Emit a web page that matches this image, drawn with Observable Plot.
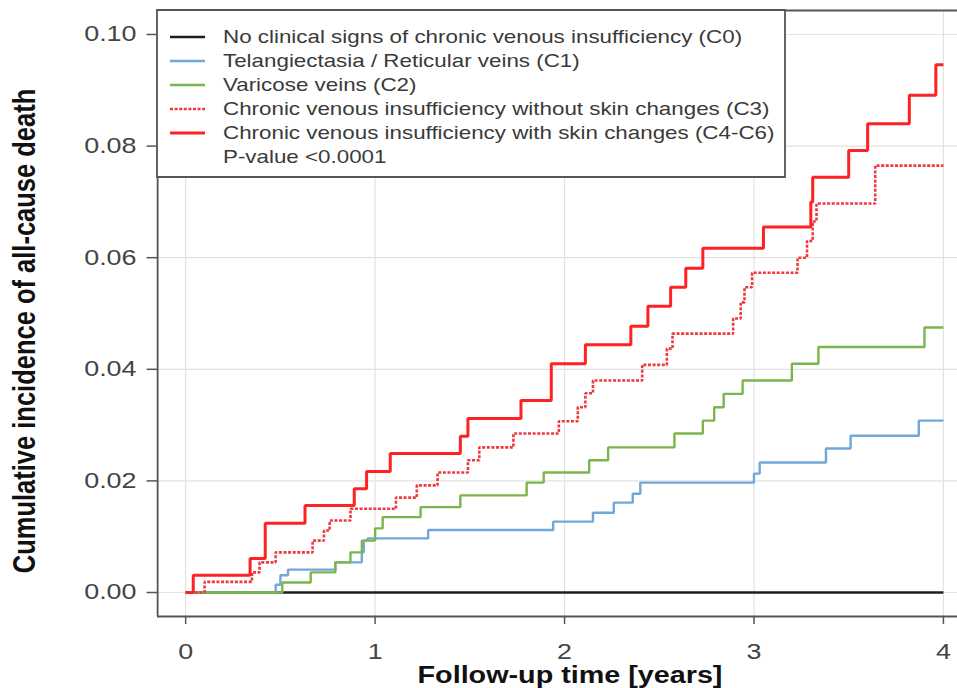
<!DOCTYPE html>
<html><head><meta charset="utf-8">
<script src="https://cdn.jsdelivr.net/npm/d3@7"></script>
<script src="https://cdn.jsdelivr.net/npm/@observablehq/plot@0.6"></script>
<style>
html,body{margin:0;padding:0;background:#fff;overflow:hidden}
#chart svg path, #chart svg line, #chart svg rect{vector-effect:non-scaling-stroke}
</style></head>
<body><div id="chart"></div>
<script>
// ---- data ----
const seriesNames = [
  "No clinical signs of chronic venous insufficiency (C0)",
  "Telangiectasia / Reticular veins (C1)",
  "Varicose veins (C2)",
  "Chronic venous insufficiency without skin changes (C3)",
  "Chronic venous insufficiency with skin changes (C4-C6)"
];
const pValueText = "P-value <0.0001";
const xTitle = "Follow-up time [years]";
const yTitle = "Cumulative incidence of all-cause death";

const c0Time  = [0, 4.0];
const c0Value = [0, 0];

const c1Time  = [0, 0.475, 0.50, 0.54, 0.79, 0.93, 0.94, 0.96, 1.28, 1.94, 2.15, 2.26, 2.36, 2.40, 3.00, 3.03, 3.38, 3.51, 3.87, 4.0];
const c1Value = [0, 0.0014, 0.0031, 0.0041, 0.0054, 0.0072, 0.0093, 0.0097, 0.0112, 0.0127, 0.0143, 0.0161, 0.0177, 0.0197, 0.0213, 0.0233, 0.0258, 0.0281, 0.0308, 0.0308];

const c2Time  = [0, 0.51, 0.66, 0.79, 0.87, 0.93, 1.00, 1.04, 1.24, 1.45, 1.80, 1.89, 2.13, 2.23, 2.58, 2.73, 2.79, 2.84, 2.94, 3.20, 3.34, 3.90, 4.0];
const c2Value = [0, 0.0018, 0.0036, 0.0054, 0.0072, 0.0093, 0.0115, 0.0135, 0.0153, 0.0174, 0.0197, 0.0215, 0.0237, 0.0260, 0.0285, 0.0308, 0.0332, 0.0356, 0.0380, 0.0410, 0.0440, 0.0475, 0.0475];

const c3Time  = [0, 0.10, 0.35, 0.39, 0.475, 0.67, 0.73, 0.76, 0.87, 1.11, 1.22, 1.33, 1.49, 1.55, 1.73, 1.97, 2.07, 2.11, 2.15, 2.41, 2.54, 2.57, 2.89, 2.93, 2.95, 2.99, 3.23, 3.28, 3.31, 3.33, 3.64, 4.0];
const c3Value = [0, 0.0019, 0.0036, 0.0054, 0.0072, 0.0093, 0.0111, 0.0129, 0.0150, 0.0170, 0.0192, 0.0215, 0.0237, 0.0260, 0.0285, 0.0307, 0.0332, 0.0357, 0.0380, 0.0408, 0.0437, 0.0464, 0.0491, 0.0520, 0.0547, 0.0573, 0.0600, 0.0630, 0.0665, 0.0697, 0.0765, 0.0765];

const c4Time  = [0, 0.04, 0.34, 0.42, 0.63, 0.89, 0.955, 1.08, 1.45, 1.49, 1.77, 1.93, 2.11, 2.35, 2.44, 2.56, 2.64, 2.73, 3.05, 3.30, 3.31, 3.50, 3.60, 3.82, 3.96, 4.0];
const c4Value = [0, 0.0031, 0.0061, 0.0124, 0.0156, 0.0186, 0.0217, 0.0249, 0.0280, 0.0312, 0.0344, 0.0410, 0.0444, 0.0477, 0.0513, 0.0547, 0.0581, 0.0617, 0.0655, 0.0700, 0.0744, 0.0792, 0.0840, 0.0891, 0.0946, 0.0946];

const xTicks = [0, 1, 2, 3, 4];
const yTicks = [0, 0.02, 0.04, 0.06, 0.08, 0.10];
const xDomain = [-0.148, 4.075];
const yDomain = [-0.0043, 0.1043];

// ---- styles ----
const seriesTimes  = [c0Time, c1Time, c2Time, c3Time, c4Time];
const seriesValues = [c0Value, c1Value, c2Value, c3Value, c4Value];
const seriesColors = ["#1e1e1e", "#72a7d9", "#7ab64c", "#ee3a3f", "#ff2222"];
const seriesWidths = [2.4, 2.4, 2.4, 2.6, 3.0];
const seriesDash   = [null, null, null, "3,1.6", null];

const S = 1.25;              // horizontal stretch of the reference raster
const W = 957 / S, H = 688;
const FONT = "'Liberation Sans', Arial, Helvetica, sans-serif";

const lineMarks = seriesNames.map((name, i) => {
  const rows = seriesTimes[i].map((t, j) => ({t, v: seriesValues[i][j], series: name}));
  return Plot.line(rows, {
    x: "t", y: "v", curve: "step-after",
    stroke: seriesColors[i], strokeWidth: seriesWidths[i],
    strokeDasharray: seriesDash[i] || undefined,
    strokeLinejoin: "miter", strokeLinecap: "butt"
  });
});

const plot = Plot.plot({
  width: W, height: H,
  marginLeft: 157 / S, marginRight: 0, marginTop: 10, marginBottom: 72,
  style: {fontFamily: FONT, background: "#fff"},
  x: {domain: xDomain, label: null},
  y: {domain: yDomain, label: null},
  marks: [
    Plot.gridX(xTicks, {stroke: "#e2e2e2", strokeOpacity: 1, strokeWidth: 1.2}),
    Plot.gridY(yTicks, {stroke: "#e2e2e2", strokeOpacity: 1, strokeWidth: 1.2}),
    Plot.axisX(xTicks, {tickSize: 8, tickPadding: 19, fontSize: 21.5, tickFormat: d3.format("d"), stroke: "#555", strokeWidth: 1.5, fill: "#444", label: null}),
    Plot.axisY(yTicks, {tickSize: 10.5 / S, tickPadding: 8.5, fontSize: 21.5, tickFormat: d3.format(".2f"), stroke: "#555", strokeWidth: 1.5, fill: "#444", label: null}),
    Plot.ruleX([xDomain[0]], {stroke: "#555", strokeWidth: 1.8}),
    Plot.ruleY(yDomain, {stroke: "#555", strokeWidth: 1.8}),
    ...lineMarks
  ]
});

// stretch horizontally like the reference
plot.setAttribute("viewBox", `0 0 ${W} ${H}`);
plot.setAttribute("width", 957);
plot.setAttribute("height", 688);
plot.setAttribute("preserveAspectRatio", "none");
plot.style.width = "957px";
plot.style.height = "688px";
plot.style.maxWidth = "none";
document.getElementById("chart").appendChild(plot);

const svg = d3.select(plot);

// axis titles
svg.append("text")
  .attr("x", 570 / S).attr("y", 683)
  .attr("text-anchor", "middle")
  .attr("font-family", FONT).attr("font-weight", "bold").attr("font-size", 23)
  .attr("fill", "#111")
  .text(xTitle);
svg.append("text")
  .attr("transform", `translate(${35 / S},${331}) rotate(-90)`)
  .attr("text-anchor", "middle")
  .attr("font-family", FONT).attr("font-weight", "bold").attr("font-size", 25.5)
  .attr("fill", "#111")
  .text(yTitle);

// legend
const lg = svg.append("g").attr("text-anchor", "start");
lg.append("rect")
  .attr("x", 157 / S).attr("y", 10)
  .attr("width", (785 - 157) / S).attr("height", 167)
  .attr("fill", "#fff").attr("stroke", "#555").attr("stroke-width", 1.8);
seriesNames.forEach((name, i) => {
  const y = 37 + 24 * i;
  lg.append("line")
    .attr("x1", 170 / S).attr("x2", 205 / S).attr("y1", y).attr("y2", y)
    .attr("stroke", seriesColors[i]).attr("stroke-width", seriesWidths[i])
    .attr("stroke-dasharray", seriesDash[i]);
  lg.append("text")
    .attr("x", 223 / S).attr("y", y).attr("dy", "0.35em")
    .attr("text-anchor", "start")
    .attr("font-family", FONT).attr("font-size", 17.9).attr("fill", "#3a3a3a")
    .text(name);
});
lg.append("text")
  .attr("x", 223 / S).attr("y", 37 + 24 * 5).attr("dy", "0.35em")
  .attr("text-anchor", "start")
  .attr("font-family", FONT).attr("font-size", 17.9).attr("fill", "#3a3a3a")
  .text(pValueText);
</script>
</body></html>
